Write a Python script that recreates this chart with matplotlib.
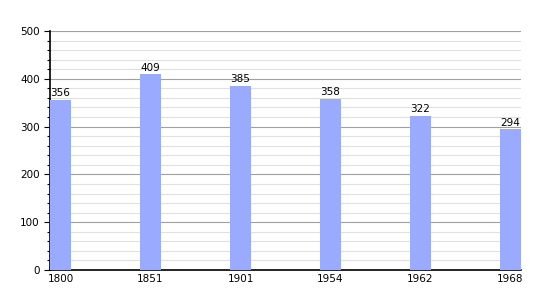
import matplotlib
matplotlib.use("Agg")
import matplotlib.pyplot as plt
import numpy as np

annees = ["1800", "1851", "1901", "1954", "1962", "1968"]
population = [356, 409, 385, 358, 322, 294]

fig = plt.figure(figsize=(5.5, 3), dpi=100)
ax = fig.add_axes([50/550, 30/300, 471/550, 239/300])

w = 21/90
x = np.arange(len(annees))
ax.bar(x, population, width=w, color="#99aaff", zorder=3)
for xi, v in zip(x, population):
    ax.text(xi, v + 4, str(v), ha="center", va="bottom", fontsize=7.5, zorder=4)

ax.set_xlim(-w/2, len(annees) - 1 + w/2)
ax.set_ylim(0, 500)
ax.set_xticks(x)
ax.set_xticklabels(annees, fontsize=7.5)
ax.set_yticks(np.arange(0, 501, 100))
ax.set_yticks(np.arange(0, 501, 20), minor=True)
ax.tick_params(axis="y", labelsize=7.5, length=4, width=0.8)
ax.tick_params(axis="y", which="minor", length=2.5, width=0.8)
ax.tick_params(axis="x", length=0, pad=3)
ax.grid(axis="y", which="major", color="#a0a0a0", lw=0.8, zorder=1)
ax.grid(axis="y", which="minor", color="#e0e0e0", lw=0.8, zorder=0)
for s in ["top", "right"]:
    ax.spines[s].set_visible(False)
ax.spines["left"].set_linewidth(1.2)
ax.spines["bottom"].set_linewidth(1.2)

plt.savefig("out.png", dpi=100)
